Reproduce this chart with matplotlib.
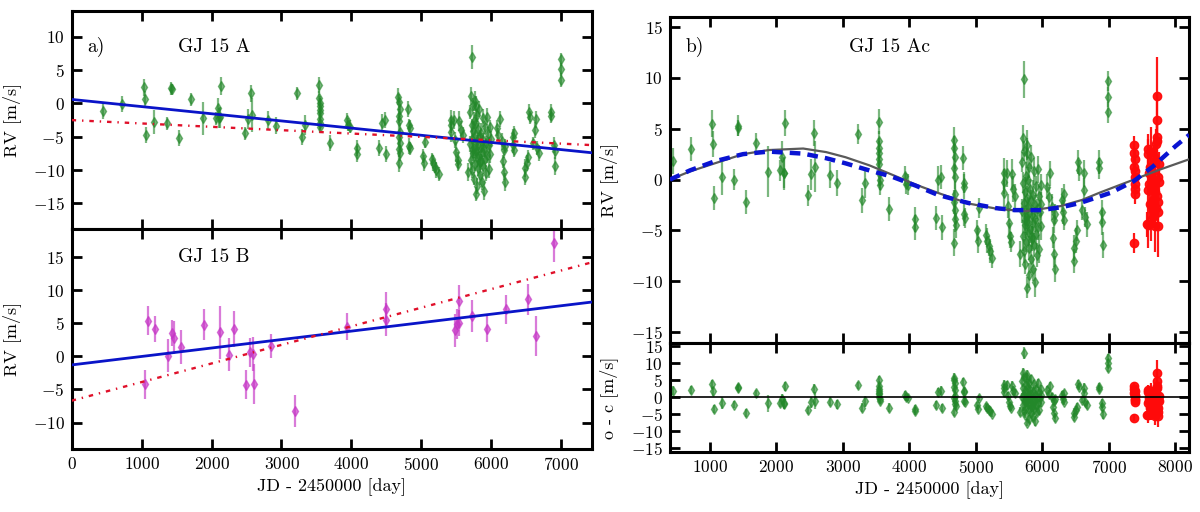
import matplotlib
matplotlib.use("Agg")
import matplotlib.pyplot as plt

plt.rcParams["font.family"] = "serif"
plt.rcParams["font.serif"] = ["cmr10", "DejaVu Serif"]
plt.rcParams["mathtext.fontset"] = "cm"
plt.rcParams["axes.formatter.use_mathtext"] = True
plt.rcParams["axes.unicode_minus"] = True

# ---------------- GJ 15 A  (HIRES) ----------------
# epochs shared by panel a, panel b and the residuals
hires_jd = [452, 714, 1038, 1048, 1062, 1176, 1357, 1419, 1430, 1538, 1700, 1881, 2057, 2086, 2110, 2119, 2129,
            2476, 2524, 2562, 2581, 2810, 2919, 3224, 3286, 3333,
            3540, 3542, 3544, 3546, 3548, 3550, 3552, 3554, 3556,
            3700, 3930, 3950, 3975, 4080, 4085, 4400, 4430, 4480, 4495,
            4670, 4680, 4690, 4675, 4685, 4695, 4680, 4690, 4685, 4700, 4675,
            4815, 4820, 4830, 4825, 4835,
            5025, 5040, 5050, 5150, 5170, 5195, 5215, 5250, 5420, 5425, 5430, 5470, 5480, 5500, 5520, 5530,
            5540, 5560, 5590, 5665,
            5724,
            5690, 5700, 5705, 5712, 5718, 5722, 5728, 5733, 5738, 5742,
            5747, 5752, 5756, 5761, 5765, 5770, 5774, 5779, 5783, 5788,
            5792, 5797, 5801, 5806, 5810, 5815, 5820, 5826, 5832, 5838,
            5844, 5850, 5856, 5862, 5868, 5874, 5880, 5886, 5892, 5898,
            5905, 5912, 5920, 5928, 5936, 5944, 5952, 5960, 5968, 5976,
            5984, 5990, 5845, 5775, 5735,
            6075, 6100, 6150, 6175, 6165, 6185, 6200, 6125, 6190,
            6325, 6315, 6330, 6305,
            6475, 6485, 6515, 6525, 6535, 6550, 6625, 6635, 6650, 6675, 6600,
            6850, 6855, 6900, 6905, 6910,
            6990, 6992, 6994]

# raw RVs (panel a)
hires_rv = [-1.1, -0.1, 2.4, 0.6, -4.75, -2.75, -3.0, 2.25, 2.1, -5.15, 0.6, -2.25, -2.25, -0.75, -2.25, -2.1, 2.6,
            -4.5, -2.4, 1.5, -1.75, -2.5, -3.35, 1.5, -5.0, -3.25,
            2.7, 0.8, 0.1, -0.4, -1.0, -1.5, -2.4, -3.0, -3.5,
            -5.9, -2.5, -3.2, -3.5, -6.75, -7.65, -6.65, -2.9, -2.5, -7.65,
            1.0, 0.25, -0.8, -1.9, -2.7, -4.3, -5.1, -6.0, -6.9, -7.5, -9.0,
            -0.9, -3.3, -3.7, -6.4, -6.75,
            -7.9, -9.0, -5.75, -8.4, -9.0, -9.5, -10.0, -10.6, -2.5, -3.2, -4.3, -2.5, -5.5, -7.3, -8.5, -9.1,
            -2.6, -4.0, -4.7, -10.3,
            6.9,
            -6.1, -1.3, -8.5, 1.1, -3.3, -10.0, -5.3, -0.2, -7.5, -4.2,
            -11.3, -2.6, -6.7, -9.1, 0.4, -4.8, -13.6, -7.1, -3.0, -5.7,
            -8.1, -12.4, -1.8, -6.3, -9.7, -3.9, -7.9, -0.8, -5.0, -10.8,
            -8.8, -6.5, -4.5, -11.8, -7.3, -2.2, -9.4, -5.5, -13.1, -6.9,
            -3.6, -8.3, -10.4, -5.9, -2.0, -7.7, -4.6, -9.8, -6.2, -3.5,
            -7.6, -5.4, -8.6, -0.4, -7.0,
            -3.7, -4.7, -5.7, -7.0, -8.7, -10.35, -11.8, -2.4, -6.4,
            -4.4, -6.2, -7.0, -5.0,
            -9.7, -11.0, -9.0, -8.0, -1.25, -2.1, -4.05, -2.4, -6.7, -7.4, -6.0,
            -1.25, -1.9, -6.2, -7.2, -9.4,
            6.6, 5.1, 3.5]

# RVs shown in panel b
hires_rv_b = [1.8, 3.0, 5.5, 3.5, -1.8, 0.25, 0.0, 5.3, 5.1, -2.2, 3.6, 0.75, 0.9, 2.25, 0.65, 0.6, 5.55,
              -1.55, 0.5, 4.6, 1.25, 0.45, -0.35, 4.5, -2.05, -0.3,
              5.7, 3.8, 3.1, 2.6, 2.0, 1.5, 0.6, 0.0, -0.5,
              -2.9, 0.35, -0.4, -0.5, -3.9, -4.7, -3.8, 0.0, 0.25, -4.7,
              3.9, 3.1, 2.25, 1.1, 0.25, -1.4, -2.2, -3.0, -3.9, -4.5, -6.2,
              2.1, -0.3, -0.7, -3.4, -3.75,
              -5.0, -6.0, -2.8, -5.4, -6.0, -6.5, -7.0, -7.7, 0.6, -0.2, -1.3, 0.6, -2.6, -4.3, -5.5, -6.1,
              0.5, -0.9, -1.6, -7.3,
              9.85,
              -3.1, 1.7, -5.5, 4.1, -0.3, -7.0, -2.3, 2.8, -4.5, -1.2,
              -8.3, 0.4, -3.7, -6.1, 3.4, -1.8, -10.6, -4.1, 0.0, -2.7,
              -5.1, -9.4, 1.2, -3.3, -6.7, -0.9, -4.9, 2.2, -2.0, -7.8,
              -5.8, -3.5, -1.5, -8.8, -4.3, 0.8, -6.4, -2.5, -10.1, -3.9,
              -0.6, -5.3, -7.4, -2.9, 1.0, -4.7, -1.6, -6.8, -3.2, -0.5,
              -4.6, -2.4, -5.6, 2.6, -4.0,
              -0.7, -1.7, -2.7, -4.0, -5.7, -7.35, -8.8, 0.6, -3.4,
              -1.4, -3.2, -4.0, -2.0,
              -6.7, -8.0, -6.0, -5.0, 1.75, 0.9, -1.05, 0.6, -3.7, -4.4, -3.0,
              1.75, 1.1, -3.2, -4.2, -6.4,
              9.7, 8.1, 6.6]

# o - c residuals
hires_oc = [2.0, 2.2, 3.8, 1.8, -3.5, -1.7, -2.2, 3.0, 2.8, -4.7, 1.3, -1.7, -1.8, -0.5, -2.0, -1.6, 3.2,
            -3.8, -1.5, 2.5, -1.0, -1.3, -2.0, 3.5, -3.0, -1.2,
            5.1, 3.2, 2.5, 2.0, 1.4, 0.9, 0.0, -0.6, -1.1,
            -3.0, 0.8, 0.0, -0.2, -3.5, -4.0, -2.3, 1.5, 2.0, -3.2,
            5.8, 5.0, 4.1, 3.0, 2.1, 0.5, -0.3, -1.1, -2.0, -2.6, -4.3,
            4.5, 2.0, 1.6, -1.0, -1.3,
            -2.4, -3.4, -0.2, -2.6, -3.1, -3.6, -4.1, -4.8, 3.5, 2.7, 1.6, 3.5, 0.3, -1.4, -2.5, -3.1,
            3.4, 2.0, 1.3, -4.2,
            13.0,
            0.0, 4.8, -2.4, 7.2, 2.8, -3.9, 0.8, 5.9, -1.4, 1.9,
            -5.2, 3.5, -0.6, -3.0, 6.5, 1.3, -7.5, -1.0, 3.1, 0.4,
            -2.0, -6.3, 4.3, -0.2, -3.6, 2.2, -1.8, 5.3, 1.1, -4.7,
            -2.7, -0.4, 1.6, -5.7, -1.2, 3.9, -3.3, 0.6, -7.0, -0.8,
            2.5, -2.2, -4.3, 0.2, 4.1, -1.6, 1.5, -3.7, -0.1, 2.6,
            -1.5, 0.7, -2.5, 5.7, -0.9,
            2.1, 1.1, 0.1, -1.2, -2.9, -4.55, -6.0, 3.4, -0.6,
            1.2, -0.6, -1.4, 0.6,
            -4.5, -5.8, -3.8, -2.8, 3.95, 3.1, 1.15, 2.8, -1.5, -2.2, -0.8,
            3.15, 2.5, -1.8, -2.8, -5.0,
            11.7, 10.2, 8.5]

hires_err = [1.3, 1.2, 1.3, 1.3, 1.2, 1.8, 1.0, 1.0, 0.8, 1.2, 1.0, 2.5, 1.0, 1.5, 1.5, 1.6, 1.3,
             1.0, 1.5, 1.3, 2.5, 1.3, 1.3, 1.0, 1.2, 1.5,
             1.2, 1.0, 1.0, 1.2, 1.0, 1.0, 1.2, 1.0, 1.0,
             1.2, 1.0, 1.0, 1.0, 1.2, 1.2, 1.2, 1.3, 1.2, 1.2,
             1.3, 1.2, 1.2, 1.0, 1.2, 1.3, 1.2, 1.0, 1.2, 1.2, 1.3,
             1.2, 1.0, 1.2, 1.2, 1.0,
             1.0, 1.2, 1.0, 1.0, 1.2, 1.0, 1.2, 1.0, 1.5, 1.2, 1.5, 1.3, 1.2, 1.5, 1.2, 1.0,
             1.5, 1.3, 1.2, 1.3,
             1.8,
             1.2, 1.0, 1.5, 1.3, 1.0, 1.2, 1.4, 1.0, 1.2, 1.5,
             1.0, 1.3, 1.2, 1.0, 1.5, 1.2, 1.0, 1.3, 1.2, 1.0,
             1.4, 1.2, 1.0, 1.5, 1.2, 1.0, 1.3, 1.2, 1.0, 1.4,
             1.2, 1.0, 1.5, 1.2, 1.0, 1.3, 1.2, 1.0, 1.4, 1.2,
             1.0, 1.5, 1.2, 1.0, 1.3, 1.2, 1.0, 1.4, 1.2, 1.0,
             1.3, 1.2, 1.0, 1.5, 1.2,
             1.2, 1.0, 1.3, 1.2, 1.0, 1.2, 1.3, 1.2, 1.0,
             1.0, 1.2, 1.0, 1.2,
             1.3, 1.2, 1.2, 1.0, 1.2, 1.0, 1.2, 1.3, 1.0, 1.2, 1.0,
             1.2, 1.0, 1.2, 1.2, 1.3,
             1.0, 1.0, 1.0]

# ---------------- GJ 15 A  (CARMENES) ----------------
carm_jd = [7385, 7388, 7390, 7392, 7395, 7398, 7400, 7393, 7397, 7390,
           7725, 7730, 7725, 7715, 7600, 7640, 7680, 7700, 7620, 7660,
           7740, 7690, 7610, 7650, 7700, 7730, 7670, 7620, 7710, 7750,
           7680, 7640, 7600, 7700, 7740, 7585, 7590, 7755, 7760, 7595,
           7745, 7735, 7605, 7665]
carm_rv = [3.4, 2.6, 1.25, 0.25, -0.4, -1.4, 2.0, 0.8, -0.9, -6.25,
           8.2, 5.9, 4.2, 3.5, 3.0, 2.7, 2.2, 1.8, 1.2, 0.8,
           0.3, 0.0, -0.4, -0.8, -1.2, -1.6, -2.0, -2.4, -2.8, -3.2,
           -3.6, -4.0, -4.5, -4.6, -4.6, -4.4, 2.5, 1.5, -0.2, -1.0,
           -2.2, 3.8, 0.6, -3.0]
carm_oc = [3.4, 2.6, 1.3, 0.3, -0.4, -1.4, 2.0, 0.8, -0.9, -6.0,
           7.2, 4.9, 3.2, 2.5, 2.2, 1.8, 1.3, 0.8, 0.4, -0.1,
           -0.7, -0.9, -1.2, -1.7, -2.2, -2.6, -2.9, -3.2, -3.8, -4.3,
           -4.5, -4.8, -5.3, -5.6, -5.6, -5.1, 1.7, 0.5, -1.2, -1.8,
           -3.2, 2.8, -0.2, -3.9]
carm_err = [0.9, 1.0, 1.2, 1.0, 1.2, 1.0, 1.1, 0.9, 1.0, 1.0,
            3.8, 2.5, 1.5, 1.5, 1.5, 2.5, 1.2, 1.5, 2.0, 1.2,
            1.5, 1.0, 1.2, 2.0, 1.5, 1.2, 1.0, 1.5, 1.2, 1.5,
            1.2, 2.0, 2.2, 2.5, 3.0, 1.2, 1.5, 1.2, 1.0, 1.5,
            1.2, 2.0, 1.0, 1.5]

# ---------------- GJ 15 B ----------------
b_jd = [1050, 1088, 1186, 1383, 1432, 1460, 1569, 1897, 2116, 2253, 2318, 2499, 2553, 2592, 2608,
        2843, 3199, 3937, 4494, 4500, 5478, 5506, 5533, 5544, 5724, 5932, 6206, 6517, 6637, 6900]
b_rv = [-4.2, 5.4, 4.1, 0.1, 3.5, 2.8, 1.4, 4.8, 3.6, 0.25, 4.1, -4.3, 0.6, 0.35, -4.2,
        1.6, -8.2, 4.5, 7.2, 5.5, 3.9, 4.9, 5.0, 8.3, 6.1, 4.1, 7.1, 8.6, 3.1, 17.1]
b_err = [2.2, 2.2, 2.0, 2.5, 2.0, 2.5, 2.5, 2.3, 4.0, 2.5, 2.7, 2.2, 2.2, 2.5, 3.0,
         1.8, 2.4, 2.0, 2.5, 2.5, 2.5, 2.3, 2.0, 2.4, 2.4, 2.0, 2.2, 2.3, 3.0, 2.8]

# ---------------- model curves ----------------
trend_jd = [0, 7440]
trend_a_lin = [0.6, -7.4]
trend_a_alt = [-2.5, -6.25]
trend_b_lin = [-1.3, 8.2]
trend_b_alt = [-6.7, 14.2]

kep_jd = [400, 700, 1076, 1500, 1885, 2405, 2750, 3040, 3400, 3735, 4100, 4430, 4890, 5350,
          5760, 6280, 6600, 6860, 7100, 7380, 7780, 8215]
kep_rv = [0.0, 0.8, 1.6, 2.5, 2.9, 3.05, 2.7, 2.2, 1.4, 0.5, -0.5, -1.3, -2.35, -2.9,
          -3.1, -2.6, -2.0, -1.3, -0.7, 0.0, 1.0, 2.0]
full_jd = [400, 700, 1076, 1500, 1885, 2405, 2750, 3040, 3400, 3735, 4100, 4430, 4890, 5300,
           5585, 5990, 6300, 6570, 7030, 7380, 7670, 8010, 8215]
full_rv = [0.0, 0.9, 1.8, 2.5, 2.75, 2.55, 2.1, 1.6, 0.9, 0.3, -0.6, -1.5, -2.3, -2.8,
           -3.0, -3.0, -2.7, -2.3, -1.3, -0.15, 1.3, 3.3, 4.4]

green = "#23882a"
magenta = "#c535c5"
red_fit = "#e0102a"
dashdot = (0, (1.9, 2.5, 0.6, 2.5))

fig = plt.figure(figsize=(12, 5.12), dpi=100)
ax_a = fig.add_axes([0.0597, 0.5537, 0.4337, 0.4248])
ax_bb = fig.add_axes([0.0597, 0.1230, 0.4337, 0.4307])
ax_b = fig.add_axes([0.5583, 0.3301, 0.4328, 0.6373])
ax_r = fig.add_axes([0.5583, 0.1178, 0.4328, 0.2123])


def style(ax):
    ax.tick_params(direction="in", length=7, width=2, top=True, right=True,
                   labelsize=12.5, pad=5)
    for sp in ax.spines.values():
        sp.set_linewidth(2.2)


def points(ax, x, y, e, col, mk="d", ms=5, alpha=0.6):
    ax.errorbar(x, y, yerr=e, fmt=mk, color=col, ms=ms, mec=col, elinewidth=1.6,
                capsize=0, alpha=alpha, zorder=2)


# panel a: GJ 15 A raw
points(ax_a, hires_jd, hires_rv, hires_err, green)
ax_a.plot(trend_jd, trend_a_lin, color="#0a14c8", lw=2, zorder=3)
ax_a.plot(trend_jd, trend_a_alt, color=red_fit, lw=1.7, ls=dashdot, zorder=3)
ax_a.set_xlim(0, 7440)
ax_a.set_ylim(-18.75, 13.85)
ax_a.set_yticks([-15, -10, -5, 0, 5, 10])
ax_a.set_xticks(range(0, 8000, 1000))
ax_a.set_ylabel("RV [m/s]", fontsize=13)
ax_a.yaxis.set_label_coords(-0.097, 0.5)
ax_a.text(0.03, 0.835, "a)", transform=ax_a.transAxes, fontsize=14, va="center")
ax_a.text(0.205, 0.835, "GJ 15 A", transform=ax_a.transAxes, fontsize=14, va="center")
style(ax_a)
ax_a.tick_params(labelbottom=False)

# panel GJ 15 B
points(ax_bb, b_jd, b_rv, b_err, magenta, alpha=0.65)
ax_bb.plot(trend_jd, trend_b_lin, color="#0a14c8", lw=2, zorder=3)
ax_bb.plot(trend_jd, trend_b_alt, color=red_fit, lw=1.7, ls=dashdot, zorder=3)
ax_bb.set_xlim(0, 7440)
ax_bb.set_ylim(-14, 19.3)
ax_bb.set_yticks([-10, -5, 0, 5, 10, 15])
ax_bb.set_xticks(range(0, 8000, 1000))
ax_bb.set_ylabel("RV [m/s]", fontsize=13)
ax_bb.yaxis.set_label_coords(-0.097, 0.5)
ax_bb.set_xlabel("JD - 2450000 [day]", fontsize=13, labelpad=4)
ax_bb.text(0.205, 0.872, "GJ 15 B", transform=ax_bb.transAxes, fontsize=14, va="center")
style(ax_bb)

# panel b: GJ 15 Ac
points(ax_b, hires_jd, hires_rv_b, hires_err, green)
points(ax_b, carm_jd, carm_rv, carm_err, "#ff0a0a", mk="o", ms=6, alpha=0.95)
ax_b.plot(kep_jd, kep_rv, color="#5a5a5a", lw=1.6, zorder=3)
ax_b.plot(full_jd, full_rv, color="#0a14d2", lw=3.2, ls=(0, (2.4, 1.6)), zorder=4)
ax_b.set_xlim(400, 8215)
ax_b.set_ylim(-16.05, 16.0)
ax_b.set_yticks([-15, -10, -5, 0, 5, 10, 15])
ax_b.set_xticks(range(1000, 9000, 1000))
ax_b.set_ylabel("RV [m/s]", fontsize=13)
ax_b.yaxis.set_label_coords(-0.1, 0.5)
ax_b.text(0.029, 0.908, "b)", transform=ax_b.transAxes, fontsize=14, va="center")
ax_b.text(0.344, 0.908, "GJ 15 Ac", transform=ax_b.transAxes, fontsize=14, va="center")
style(ax_b)
ax_b.tick_params(labelbottom=False)

# residuals
points(ax_r, hires_jd, hires_oc, hires_err, green)
points(ax_r, carm_jd, carm_oc, carm_err, "#ff0a0a", mk="o", ms=6, alpha=0.95)
ax_r.axhline(0, color="black", lw=1.2, zorder=3)
ax_r.set_xlim(400, 8215)
ax_r.set_ylim(-16, 16)
ax_r.set_yticks([-15, -10, -5, 0, 5, 10, 15])
ax_r.set_xticks(range(1000, 9000, 1000))
ax_r.set_ylabel("o - c [m/s]", fontsize=13)
ax_r.yaxis.set_label_coords(-0.1, 0.5)
ax_r.set_xlabel("JD - 2450000 [day]", fontsize=13, labelpad=4)
style(ax_r)

fig.savefig("out.png", dpi=100)
